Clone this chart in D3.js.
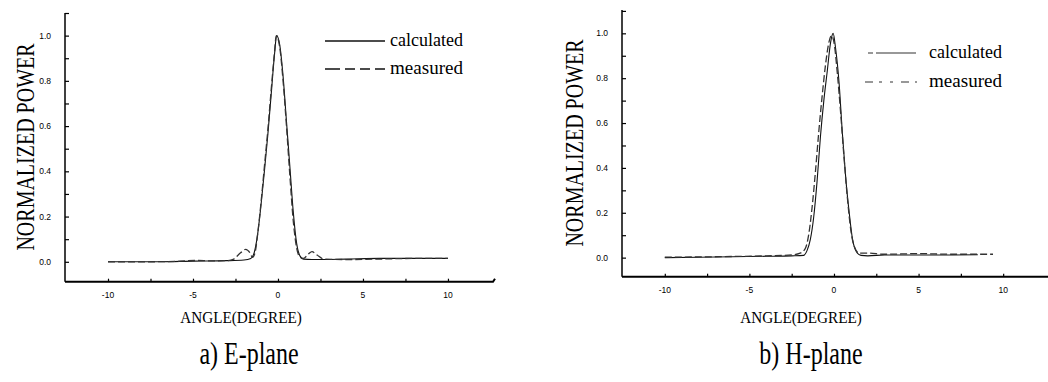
<!DOCTYPE html>
<html>
<head>
<meta charset="utf-8">
<script src="https://cdn.jsdelivr.net/npm/d3@7"></script>
<style>
  body { margin: 0; background: #fff; }
  svg { display: block; }
  .tick-label { font-family: "Liberation Sans", Arial, sans-serif; font-size: 8.5px; fill: #000; }
  .serif { font-family: "Liberation Serif", "Times New Roman", serif; fill: #000; }
</style>
</head>
<body>
<svg id="chart" width="1048" height="382"></svg>
<script>
// E-plane
var eCalcX = [-10, -7, -5, -3, -2, -1.6, -1.4, -1.2, -1.0, -0.8, -0.6, -0.4, -0.2, -0.08, 0.1, 0.3, 0.5, 0.7, 0.9, 1.1, 1.3, 1.5, 2, 4, 6, 8, 10]
var eCalcY = [0.0, 0.0, 0.003, 0.005, 0.008, 0.015, 0.04, 0.12, 0.25, 0.40, 0.56, 0.74, 0.92, 1.0, 0.96, 0.82, 0.62, 0.42, 0.22, 0.08, 0.025, 0.012, 0.01, 0.012, 0.015, 0.015, 0.015]
var eMeasX = [-10, -8, -6, -4.7, -4, -3, -2.6, -2.2, -1.9, -1.65, -1.5, -1.35, -1.2, -1.0, -0.8, -0.6, -0.4, -0.2, -0.1, 0.1, 0.3, 0.5, 0.7, 0.9, 1.1, 1.3, 1.5, 1.8, 2.0, 2.3, 2.7, 4, 6, 8, 10]
var eMeasY = [0.0, 0.0, 0.002, 0.006, 0.004, 0.005, 0.012, 0.04, 0.055, 0.04, 0.02, 0.04, 0.12, 0.26, 0.42, 0.58, 0.76, 0.93, 1.0, 0.95, 0.80, 0.60, 0.38, 0.18, 0.06, 0.02, 0.015, 0.035, 0.045, 0.03, 0.012, 0.01, 0.012, 0.015, 0.015]

// H-plane
var hCalcX = [-10, -8, -6, -4, -2.5, -1.8, -1.6, -1.4, -1.2, -1.0, -0.8, -0.6, -0.4, -0.2, -0.05, 0.1, 0.3, 0.5, 0.7, 0.9, 1.1, 1.3, 1.6, 2, 3, 5, 7, 8.5]
var hCalcY = [0.0, 0.002, 0.004, 0.006, 0.008, 0.01, 0.03, 0.08, 0.18, 0.34, 0.54, 0.70, 0.83, 0.96, 1.0, 0.93, 0.78, 0.55, 0.35, 0.20, 0.08, 0.03, 0.01, 0.008, 0.012, 0.012, 0.012, 0.013]
var hMeasX = [-10, -8, -6, -4, -2.5, -2.0, -1.7, -1.5, -1.3, -1.1, -0.9, -0.7, -0.5, -0.3, -0.15, 0.0, 0.2, 0.4, 0.6, 0.8, 1.0, 1.2, 1.5, 2, 3, 5, 7, 9.4]
var hMeasY = [0.002, 0.003, 0.005, 0.008, 0.012, 0.02, 0.04, 0.10, 0.22, 0.38, 0.56, 0.72, 0.86, 0.96, 0.99, 0.96, 0.82, 0.64, 0.44, 0.26, 0.12, 0.05, 0.02, 0.02, 0.015, 0.018, 0.015, 0.015]

var xTicks = [-10, -7.5, -5, -2.5, 0, 2.5, 5, 7.5, 10]
var xTickLabels = ['-10', '-5', '0', '5', '10']
var yTicks = [-0.1, 0, 0.1, 0.2, 0.3, 0.4, 0.5, 0.6, 0.7, 0.8, 0.9, 1.0, 1.1]
var yTickLabels = ['0.0', '0.2', '0.4', '0.6', '0.8', '1.0']
var legendNames = ['calculated', 'measured']

var svg = d3.select('#chart')
var SERIF = '"Liberation Serif", "Times New Roman", serif'

function zip(xs, ys) {
  return xs.map(function(x, i) { return [x, ys[i]] })
}

function drawPanel(p) {
  var g = svg.append('g')

  var x = d3.scaleLinear().domain([-12.53, 12.65]).range([p.left, p.right])
  var y = d3.scaleLinear().domain(p.yDomain).range([p.bottom, p.top])

  // y axis, ticks pointing inward
  var yAxis = d3.axisRight(y)
    .tickValues(yTicks.filter(function(t) { return t >= p.yDomain[0] && t <= p.yDomain[1] + 0.001 }))
    .tickSize(4)
    .tickFormat('')
  var ya = g.append('g')
    .attr('transform', 'translate(' + p.left + ',0)')
    .call(yAxis)
  ya.select('.domain').attr('d', 'M0,' + p.top + 'V' + p.bottom).attr('stroke-width', 1.5)
  ya.selectAll('.tick line').attr('stroke-width', 1.2)

  g.selectAll('.ylab')
    .data(yTickLabels)
    .enter()
    .append('text')
    .attr('class', 'tick-label')
    .attr('x', p.left - 14)
    .attr('y', function(d) { return y(+d) + 3 })
    .attr('text-anchor', 'end')
    .text(function(d) { return d })

  // x axis, ticks pointing up
  var xAxis = d3.axisTop(x).tickValues(xTicks).tickSize(3).tickFormat('')
  var xa = g.append('g')
    .attr('transform', 'translate(0,' + p.bottom + ')')
    .call(xAxis)
  xa.select('.domain')
    .attr('d', 'M' + p.left + ',0H' + p.right + (p.hook ? 'l2,-3' : ''))
    .attr('stroke-width', 2)
  xa.selectAll('.tick line').attr('stroke-width', 1.2)

  g.selectAll('.xlab')
    .data(xTickLabels)
    .enter()
    .append('text')
    .attr('class', 'tick-label')
    .attr('x', function(d) { return x(+d) })
    .attr('y', p.bottom + 16)
    .attr('text-anchor', 'middle')
    .text(function(d) { return d })

  // curves
  var line = d3.line()
    .x(function(d) { return x(d[0]) })
    .y(function(d) { return y(d[1]) })
    .curve(d3.curveMonotoneX)

  g.append('path')
    .datum(zip(p.calcX, p.calcY))
    .attr('fill', 'none')
    .attr('stroke', '#111')
    .attr('stroke-width', 1.1)
    .attr('d', line)

  g.append('path')
    .datum(zip(p.measX, p.measY))
    .attr('fill', 'none')
    .attr('stroke', '#333')
    .attr('stroke-width', 1.3)
    .attr('stroke-dasharray', '7,3')
    .attr('d', line)

  // legend
  legendNames.forEach(function(name, i) {
    var ly = p.legY[i]
    g.append('line')
      .attr('x1', p.legX1[i]).attr('x2', p.legX2)
      .attr('y1', ly).attr('y2', ly)
      .attr('stroke', p.legColor)
      .attr('stroke-width', 1.3)
      .attr('stroke-dasharray', p.legDash[i])
    g.append('text')
      .attr('class', 'serif')
      .attr('font-family', SERIF)
      .attr('x', p.legText)
      .attr('y', ly + 5)
      .attr('font-size', 18)
      .attr('textLength', 73)
      .attr('lengthAdjust', 'spacingAndGlyphs')
      .text(name)
  })

  // axis titles (tall, narrow lettering like the scan)
  g.append('text')
    .attr('class', 'serif')
    .attr('font-family', SERIF)
    .attr('transform', 'translate(' + p.yTitleX + ',' + p.yTitleY + ') rotate(-90) scale(1,1.3)')
    .attr('text-anchor', 'middle')
    .attr('font-size', 20)
    .text('NORMALIZED POWER')

  g.append('text')
    .attr('class', 'serif')
    .attr('font-family', SERIF)
    .attr('transform', 'translate(' + p.xTitleX + ',323) scale(0.95,1.1)')
    .attr('text-anchor', 'middle')
    .attr('font-size', 16)
    .text('ANGLE(DEGREE)')

  g.append('text')
    .attr('class', 'serif')
    .attr('font-family', SERIF)
    .attr('transform', 'translate(' + p.capX + ',364) scale(1,1.3)')
    .attr('text-anchor', 'middle')
    .attr('font-size', 24)
    .text(p.caption)
}

drawPanel({
  left: 65, right: 493, top: 13, bottom: 281.7, yDomain: [-0.088, 1.1], hook: true,
  calcX: eCalcX, calcY: eCalcY, measX: eMeasX, measY: eMeasY,
  legX1: [325, 325], legX2: 385, legY: [41, 69], legText: 390,
  legColor: '#111', legDash: ['none', '15,5,10,5,10,5,10'],
  yTitleX: 34, yTitleY: 147, xTitleX: 241, capX: 249, caption: 'a) E-plane'
})

drawPanel({
  left: 622, right: 1048, top: 10, bottom: 276.7, yDomain: [-0.085, 1.104], hook: false,
  calcX: hCalcX, calcY: hCalcY, measX: hMeasX, measY: hMeasY,
  legX1: [868, 865], legX2: 917, legY: [53, 82], legText: 929,
  legColor: '#777', legDash: ['5,3,40', '8,6,3,8,3,8'],
  yTitleX: 583, yTitleY: 143, xTitleX: 801, capX: 811, caption: 'b) H-plane'
})
</script>
</body>
</html>
